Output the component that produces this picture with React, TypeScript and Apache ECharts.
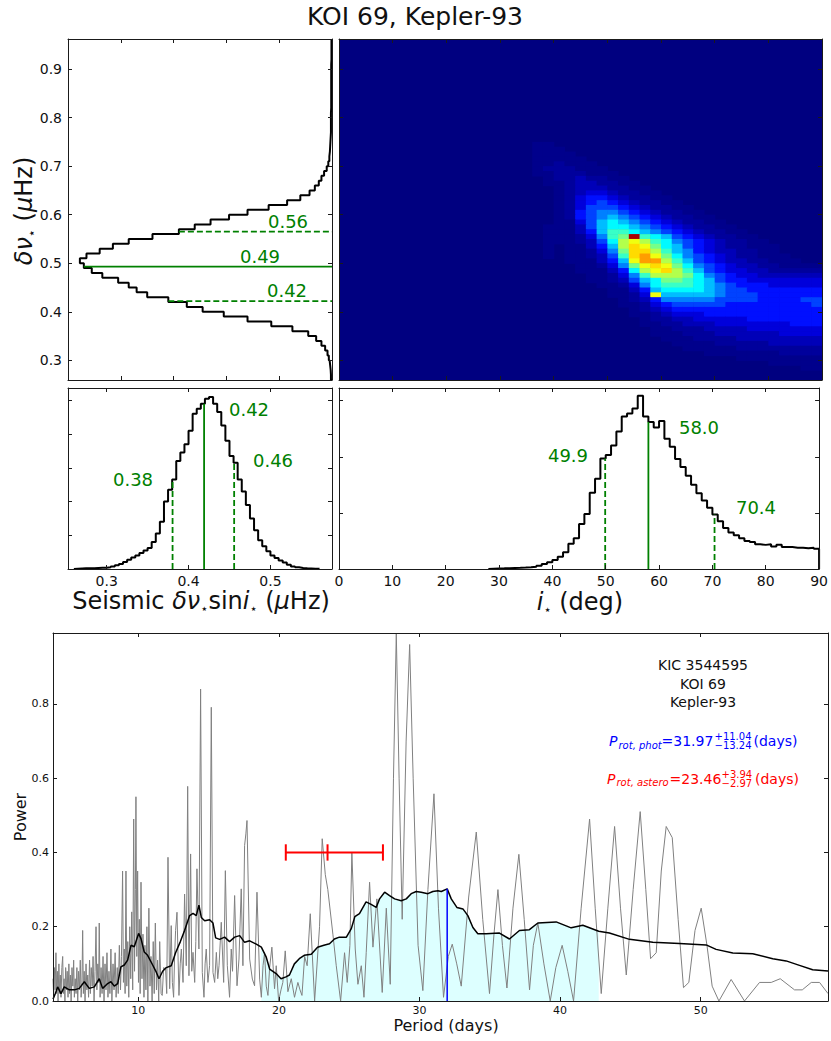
import React, { useEffect, useRef } from "react";
import * as echarts from "echarts";

type Pt = [number, number];

const FONT = "DejaVu Sans";
const INK = "#111111";
const AXIS_INK = "#1a1a1a";
const GREEN = "#008000";

// ---------- Top-left: marginal histogram of delta-nu (bins along y) ----------
const dnuBinStart = 0.26;
const dnuBinWidth = 0.01;
const dnuCounts = [
  0.004, 0.005, 0.007, 0.009, 0.012, 0.017, 0.026, 0.04, 0.06, 0.09,
  0.15, 0.23, 0.32, 0.41, 0.49, 0.55, 0.62, 0.7, 0.74, 0.77,
  0.81, 0.87, 0.91, 0.94, 0.955, 0.93, 0.88, 0.83, 0.77, 0.68,
  0.58, 0.52, 0.46, 0.39, 0.32, 0.24, 0.17, 0.12, 0.085, 0.065,
  0.05, 0.04, 0.03, 0.02, 0.014, 0.01, 0.008, 0.007, 0.006, 0.005,
  0.004, 0.004, 0.004, 0.004, 0.004, 0.003, 0.003, 0.003, 0.003, 0.003,
  0.003, 0.003, 0.003, 0.003, 0.003, 0.002, 0.002, 0.002, 0.002, 0.002,
];
const dnuQuantiles = [0.422, 0.493, 0.565];
const dnuQuantileLabels = ["0.42", "0.49", "0.56"];

// ---------- Middle-left: seismic delta-nu sin i ----------
const vsiniBinStart = 0.26;
const vsiniBinWidth = 0.005;
const vsiniCounts = [
  0.002, 0.003, 0.004, 0.004, 0.005, 0.006, 0.007, 0.008, 0.01, 0.015,
  0.022, 0.03, 0.042, 0.055, 0.068, 0.08, 0.095, 0.11, 0.125, 0.16,
  0.21, 0.28, 0.4, 0.47, 0.53, 0.64, 0.69, 0.74, 0.82, 0.92,
  0.95, 0.98, 1.01, 1.02, 0.98, 0.93, 0.85, 0.76, 0.67, 0.63,
  0.53, 0.46, 0.38, 0.3, 0.23, 0.17, 0.135, 0.105, 0.08, 0.065,
  0.05, 0.038, 0.025, 0.015, 0.01, 0.006, 0.004, 0.003, 0.002, 0.001,
];
const vsiniQuantiles = [0.3805, 0.419, 0.4557];
const vsiniQuantileLabels = ["0.38", "0.42", "0.46"];

// ---------- Middle-right: inclination ----------
const incBinStart = 28;
const incBinWidth = 1;
const incCounts = [
  0.005, 0.01, 0.012, 0.015, 0.02, 0.022, 0.025, 0.03, 0.04, 0.06,
  0.09, 0.12, 0.16, 0.22, 0.3, 0.45, 0.55, 0.8, 0.98, 1.36,
  1.61, 1.97, 2.03, 2.2, 2.45, 2.72, 2.77, 2.86, 3.09, 2.72,
  2.62, 2.52, 2.64, 2.32, 2.18, 1.96, 1.82, 1.66, 1.5, 1.35,
  1.22, 1.09, 0.97, 0.85, 0.73, 0.65, 0.6, 0.55, 0.5, 0.48,
  0.44, 0.43, 0.44, 0.4, 0.43, 0.39, 0.39, 0.38, 0.38, 0.37,
  0.38, 0.36,
];
const incQuantiles = [49.9, 58.0, 70.4];
const incQuantileLabels = ["49.9", "58.0", "70.4"];

// ---------- 2D histogram (inclination x delta-nu) ----------
// each row: one delta-nu bin (lower edge from heatRowTop downwards), each char one inclination bin;
// char is a base-36 index into heatLevelScale (fraction of the colour range).
const heatColStart = 30;
const heatColWidth = 2;
const heatRowTop = 0.74;
const heatRowHeight = 0.01;
const heatLevelScale = [0, 0.012, 0.028, 0.055, 0.09, 0.14, 0.19, 0.25, 0.31, 0.37, 0.43, 0.49, 0.55, 0.61, 0.66, 0.72, 0.8, 0.88, 0.96];
const heatRows = [
  "0001100000" + "0000000000" + "0000000000",
  "0001110000" + "0000000000" + "0000000000",
  "0001111000" + "0000000000" + "0000000000",
  "0001111100" + "0000000000" + "0000000000",
  "0001121110" + "0000000000" + "0000000000",
  "0001222111" + "0000000000" + "0000000000",
  "0001122211" + "1000000000" + "0000000000",
  "0000122322" + "1100000000" + "0000000000",
  "0000112332" + "2110000000" + "0000000000",
  "0000012333" + "2211000000" + "0000000000",
  "0000012344" + "3221100000" + "0000000000",
  "0000012455" + "4322110000" + "0000000000",
  "0000012456" + "5432211000" + "0000000000",
  "0000012466" + "6543221100" + "0000000000",
  "0000012567" + "7654322110" + "0000000000",
  "0000012567" + "8765432211" + "0000000000",
  "0000011468" + "9876543221" + "1000000000",
  "0000111368" + "9987654322" + "1100000000",
  "0000111358" + "aa98765432" + "2110000000",
  "0000111247" + "abia986543" + "2211000000",
  "0000111236" + "9cdca97654" + "3221100000",
  "0000101135" + "8cedb98654" + "3221110000",
  "0000101124" + "7beeca8754" + "3322110000",
  "0000101123" + "6aefdb9765" + "4322111000",
  "0000001113" + "58dffca865" + "4332211100",
  "0000000112" + "47bdedb976" + "5433221111",
  "0000000111" + "359cdeca86" + "5443322222",
  "0000000011" + "247acccb97" + "6544333333",
  "0000000011" + "23689bba98" + "6554444444",
  "0000000001" + "12479aaa98" + "7655544444",
  "0000000000" + "1135899998" + "7665555555",
  "0000000000" + "1124d88888" + "7666555555",
  "0000000000" + "0123577777" + "6666555566",
  "0000000000" + "0112456666" + "6555555556",
  "0000000000" + "0012345555" + "5555555555",
  "0000000000" + "0011234445" + "5555555555",
  "0000000000" + "0001223344" + "4445555555",
  "0000000000" + "0001122333" + "4444444555",
  "0000000000" + "0000112223" + "3334444444",
  "0000000000" + "0000111222" + "3333334444",
  "0000000000" + "0000011122" + "2233333333",
  "0000000000" + "0000001111" + "2222233333",
  "0000000000" + "0000000111" + "1122222222",
  "0000000000" + "0000000001" + "1111112222",
  "0000000000" + "0000000000" + "0011111111",
  "0000000000" + "0000000000" + "0000011111",
  "0000000000" + "0000000000" + "0000000011",
];

// ---------- Bottom: periodogram ----------
const periodogram: Pt[] = [
  [3.93, 0.06], [3.98, 0.01], [4.03, 0.09], [4.08, 0.03], [4.14, 0.13], [4.19, 0.02], [4.24, 0.08], [4.29, 0.0],
  [4.35, 0.1], [4.4, 0.02], [4.45, 0.07], [4.5, 0.01], [4.56, 0.09], [4.62, 0.12], [4.67, 0.02], [4.72, 0.06],
  [4.78, 0.0], [4.83, 0.09], [4.89, 0.03], [4.94, 0.08], [5.0, 0.01], [5.06, 0.1], [5.11, 0.02], [5.17, 0.07],
  [5.22, 0.0], [5.28, 0.09], [5.34, 0.04], [5.4, 0.11], [5.45, 0.01], [5.51, 0.06], [5.57, 0.02], [5.63, 0.09],
  [5.69, 0.0], [5.75, 0.08], [5.81, 0.03], [5.87, 0.11], [5.93, 0.01], [5.99, 0.05], [6.04, 0.19], [6.09, 0.02],
  [6.15, 0.08], [6.21, 0.0], [6.28, 0.1], [6.34, 0.03], [6.4, 0.07], [6.46, 0.01], [6.53, 0.11], [6.59, 0.02],
  [6.65, 0.09], [6.72, 0.04], [6.78, 0.12], [6.85, 0.0], [6.92, 0.08], [6.99, 0.2], [7.05, 0.03], [7.12, 0.1],
  [7.18, 0.05], [7.22, 0.21], [7.28, 0.01], [7.35, 0.09], [7.42, 0.02], [7.49, 0.12], [7.56, 0.0], [7.63, 0.1],
  [7.7, 0.03], [7.77, 0.13], [7.84, 0.01], [7.91, 0.08], [7.98, 0.02], [8.05, 0.14], [8.12, 0.0], [8.2, 0.1],
  [8.27, 0.03], [8.35, 0.13], [8.42, 0.01], [8.5, 0.09], [8.57, 0.02], [8.65, 0.15], [8.73, 0.03], [8.8, 0.12],
  [8.88, 0.35], [8.94, 0.05], [9.0, 0.14], [9.06, 0.02], [9.12, 0.35], [9.18, 0.04], [9.25, 0.16], [9.32, 0.01],
  [9.39, 0.2], [9.46, 0.06], [9.53, 0.24], [9.6, 0.03], [9.67, 0.49], [9.73, 0.08], [9.79, 0.3], [9.83, 0.55],
  [9.89, 0.12], [9.95, 0.35], [10.01, 0.05], [10.07, 0.22], [10.13, 0.02], [10.19, 0.32], [10.26, 0.06], [10.33, 0.18],
  [10.4, 0.01], [10.47, 0.15], [10.54, 0.03], [10.61, 0.2], [10.68, 0.0], [10.75, 0.25], [10.83, 0.04], [10.9, 0.12],
  [10.98, 0.0], [11.06, 0.16], [11.13, 0.02], [11.21, 0.21], [11.29, 0.03], [11.37, 0.11], [11.45, 0.0], [11.52, 0.16],
  [11.62, 0.02], [11.7, 0.015], [11.8, 0.09], [11.94, 0.086], [12.02, 0.02], [12.11, 0.387], [12.23, 0.033], [12.34, 0.203],
  [12.42, 0.05], [12.51, 0.01], [12.58, 0.12], [12.65, 0.19], [12.75, 0.239], [12.89, 0.015], [12.98, 0.1], [13.06, 0.14],
  [13.18, 0.05], [13.29, 0.288], [13.41, 0.095], [13.51, 0.578], [13.6, 0.068], [13.72, 0.396], [13.8, 0.08], [13.89, 0.131],
  [14.01, 0.05], [14.09, 0.16], [14.17, 0.356], [14.31, 0.14], [14.43, 0.84], [14.55, 0.077], [14.67, 0.01], [14.75, 0.1],
  [14.83, 0.14], [14.95, 0.05], [15.07, 0.095], [15.19, 0.791], [15.31, 0.077], [15.43, 0.05], [15.55, 0.131], [15.65, 0.06],
  [15.74, 0.095], [15.9, 0.212], [16.07, 0.05], [16.19, 0.351], [16.33, 0.095], [16.49, 0.01], [16.61, 0.14], [16.7, 0.08],
  [16.85, 0.284], [17.02, 0.041], [17.16, 0.113], [17.32, 0.302], [17.44, 0.095], [17.56, 0.419], [17.65, 0.45], [17.73, 0.486],
  [17.92, 0.113], [18.11, 0.059], [18.27, 0.041], [18.44, 0.293], [18.63, 0.059], [18.75, 0.01], [18.87, 0.095], [18.98, 0.13],
  [19.1, 0.04], [19.22, 0.015], [19.34, 0.09], [19.5, 0.145], [19.69, 0.033], [19.81, 0.095], [19.98, 0.0], [20.15, 0.03],
  [20.28, 0.05], [20.45, 0.135], [20.64, 0.025], [20.88, 0.06], [21.11, 0.01], [21.35, 0.05], [21.5, 0.03], [21.64, 0.015],
  [21.83, 0.12], [22.01, 0.095], [22.23, 0.235], [22.54, 0.0], [22.89, 0.2], [23.08, 0.437], [23.3, 0.34], [23.48, 0.3],
  [23.84, 0.18], [24.08, 0.095], [24.39, 0.0], [24.67, 0.13], [24.86, 0.05], [25.05, 0.15], [25.19, 0.4], [25.43, 0.14],
  [25.62, 0.045], [25.86, 0.095], [26.05, 0.01], [26.21, 0.13], [26.45, 0.32], [26.69, 0.145], [26.97, 0.275], [27.35, 0.023],
  [27.64, 0.25], [27.92, 0.045], [28.15, 0.6], [28.35, 0.99], [28.55, 0.6], [28.77, 0.22], [29.05, 0.7], [29.3, 0.96],
  [29.55, 0.6], [29.9, 0.15], [30.24, 0.028], [30.6, 0.3], [31.03, 0.558], [31.35, 0.25], [31.71, 0.01], [32.05, 0.12],
  [32.33, 0.153], [32.65, 0.1], [32.97, 0.04], [33.5, 0.28], [34.04, 0.455], [34.5, 0.22], [34.98, 0.02], [35.3, 0.18],
  [35.58, 0.3], [35.9, 0.15], [36.22, 0.035], [36.65, 0.25], [37.07, 0.395], [37.45, 0.22], [37.83, 0.03], [38.1, 0.15],
  [38.42, 0.21], [38.85, 0.1], [39.3, 0.0], [39.7, 0.09], [40.15, 0.15], [40.55, 0.08], [40.96, 0.0], [41.5, 0.25],
  [42.1, 0.49], [42.5, 0.25], [42.93, 0.02], [43.4, 0.25], [43.88, 0.47], [44.3, 0.25], [44.71, 0.07], [45.2, 0.3],
  [45.7, 0.51], [46.1, 0.3], [46.44, 0.114], [46.84, 0.13], [47.2, 0.35], [47.55, 0.47], [47.98, 0.44], [48.4, 0.22],
  [48.78, 0.036], [49.16, 0.05], [49.6, 0.19], [50.04, 0.25], [50.45, 0.15], [50.82, 0.04], [51.3, 0.0], [52.17, 0.058],
  [53.12, 0.0], [54.19, 0.05], [55.02, 0.05], [55.66, 0.06], [56.68, 0.03], [57.23, 0.03], [57.87, 0.05], [58.46, 0.05],
  [59.06, 0.02],
];

const smoothed: Pt[] = [
  [3.93, 0.005], [4.1, 0.02], [4.26, 0.038], [4.5, 0.02], [4.73, 0.038], [5.09, 0.03], [5.45, 0.03], [5.8, 0.034],
  [6.16, 0.052], [6.51, 0.034], [6.87, 0.038], [7.22, 0.06], [7.46, 0.034], [7.82, 0.047], [8.05, 0.052], [8.29, 0.04],
  [8.53, 0.047], [8.76, 0.092], [9.0, 0.097], [9.24, 0.11], [9.48, 0.15], [9.71, 0.146], [10.02, 0.182], [10.19, 0.168],
  [10.42, 0.132], [10.66, 0.123], [11.02, 0.097], [11.25, 0.08], [11.47, 0.06], [11.73, 0.08], [11.99, 0.09], [12.34, 0.095],
  [12.65, 0.13], [12.99, 0.16], [13.29, 0.19], [13.65, 0.23], [13.89, 0.236], [14.12, 0.23], [14.31, 0.258], [14.48, 0.225],
  [14.72, 0.216], [15.07, 0.219], [15.31, 0.21], [15.5, 0.17], [15.78, 0.166], [16.14, 0.172], [16.49, 0.16], [16.85, 0.172],
  [17.21, 0.176], [17.56, 0.158], [17.92, 0.162], [18.39, 0.153], [18.75, 0.145], [19.1, 0.118], [19.34, 0.086], [19.8, 0.074],
  [20.15, 0.06], [20.5, 0.065], [20.75, 0.07], [21.1, 0.1], [21.45, 0.114], [21.8, 0.123], [22.3, 0.126], [22.75, 0.145],
  [23.2, 0.15], [23.6, 0.154], [23.95, 0.167], [24.3, 0.172], [24.8, 0.172], [25.15, 0.195], [25.4, 0.227], [25.73, 0.235],
  [26.2, 0.267], [26.56, 0.26], [26.92, 0.252], [27.16, 0.275], [27.52, 0.293], [27.87, 0.284], [28.23, 0.275], [28.7, 0.27],
  [29.06, 0.275], [29.41, 0.289], [29.77, 0.295], [30.12, 0.293], [30.6, 0.289], [30.95, 0.295], [31.31, 0.297], [31.55, 0.295],
  [31.97, 0.302], [32.26, 0.275], [32.66, 0.252], [33.09, 0.248], [33.44, 0.23], [33.8, 0.198], [34.15, 0.181], [34.74, 0.181],
  [35.69, 0.183], [36.4, 0.167], [37.11, 0.19], [37.82, 0.192], [38.42, 0.21], [39.72, 0.213], [40.79, 0.197], [41.62, 0.204],
  [42.75, 0.188], [43.51, 0.183], [44.94, 0.166], [46.6, 0.158], [48.49, 0.155], [50.39, 0.151], [51.1, 0.139], [52.29, 0.129],
  [53.71, 0.127], [55.13, 0.114], [56.08, 0.108], [57.03, 0.096], [57.97, 0.084], [59.06, 0.081],
];

const protPhot = 31.97;
const protPhotPlus = 11.04;
const protPhotMinus = 13.24;
const protAstero = 23.46;
const protAsteroPlus = 3.94;
const protAsteroMinus = 2.97;
const asteroBarPower = 0.4;
const starNames = ["KIC 3544595", "KOI 69", "Kepler-93"];

// ---------- helpers ----------
function stepAlongX(start: number, width: number, counts: number[]): Pt[] {
  const pts: Pt[] = [[start, 0]];
  counts.forEach((c, k) => {
    const lo = start + k * width;
    pts.push([lo, c], [lo + width, c]);
  });
  pts.push([start + counts.length * width, 0]);
  return pts;
}
function stepAlongY(start: number, width: number, counts: number[]): Pt[] {
  return stepAlongX(start, width, counts).map(([a, b]) => [b, a] as Pt);
}
function countAt(start: number, width: number, counts: number[], v: number) {
  const k = Math.min(counts.length - 1, Math.max(0, Math.floor((v - start) / width + 1e-9)));
  return counts[k];
}
function interp(pts: Pt[], x: number) {
  for (let k = 1; k < pts.length; k++) {
    if (pts[k][0] >= x) {
      const [x0, y0] = pts[k - 1];
      const [x1, y1] = pts[k];
      return y0 + ((y1 - y0) * (x - x0)) / (x1 - x0);
    }
  }
  return pts[pts.length - 1][1];
}
function jet(t: number) {
  const c = (v: number) => Math.max(0, Math.min(1, v));
  const r = c(Math.min(4 * t - 1.5, -4 * t + 4.5));
  const g = c(Math.min(4 * t - 0.5, -4 * t + 3.5));
  const b = c(Math.min(4 * t + 0.5, -4 * t + 2.5));
  return `rgb(${Math.round(r * 255)},${Math.round(g * 255)},${Math.round(b * 255)})`;
}
function onStep(step: number, decimals: number) {
  return (v: number) => {
    const k = v / step;
    return Math.abs(k - Math.round(k)) < 1e-6 ? v.toFixed(decimals) : "";
  };
}

function axisCommon(g: number, o: any) {
  const a: any = {
    type: "value",
    gridIndex: g,
    min: o.min,
    max: o.max,
    inverse: !!o.inverse,
    z: 6,
    axisLine: { show: true, onZero: false, lineStyle: { color: AXIS_INK, width: 1 } },
    axisTick: { show: true, inside: true, length: 4, lineStyle: { color: AXIS_INK, width: 1 } },
    splitLine: { show: false },
  };
  if (o.interval != null) a.interval = o.interval;
  else a.splitNumber = o.splitNumber ?? 5;
  return a;
}
function labelStyle(o: any) {
  return o.label
    ? {
        show: true,
        fontFamily: FONT,
        fontSize: o.fontSize,
        color: INK,
        margin: o.margin,
        formatter: o.label,
        showMinLabel: true,
        showMaxLabel: true,
      }
    : { show: false };
}
function xPair(g: number, o: any) {
  const c = axisCommon(g, o);
  return [
    { ...c, position: "bottom", axisLabel: labelStyle(o) },
    { ...c, position: "top", axisLabel: { show: false } },
  ];
}
function yPair(g: number, o: any) {
  const c = axisCommon(g, o);
  return [
    { ...c, position: "left", axisLabel: labelStyle(o) },
    { ...c, position: "right", axisLabel: { show: false } },
  ];
}

function line(g: number, data: Pt[], color: string, width: number, extra: any = {}) {
  return {
    type: "line",
    xAxisIndex: 2 * g,
    yAxisIndex: 2 * g,
    data,
    symbol: "none",
    showSymbol: false,
    silent: true,
    animation: false,
    clip: true,
    z: extra.z ?? 3,
    lineStyle: { color, width, type: extra.dash ?? "solid" },
    ...(extra.area ? { areaStyle: extra.area } : {}),
  };
}

function txt(x: number, y: number, text: string, size: number, o: any = {}) {
  return {
    type: "text",
    x,
    y,
    z: 100,
    silent: true,
    rotation: o.rotation ?? 0,
    style: {
      text,
      fontSize: size,
      fontFamily: FONT,
      fontStyle: o.italic ? "italic" : "normal",
      fill: o.fill ?? INK,
      align: o.align ?? "center",
      verticalAlign: "middle",
      lineHeight: o.lineHeight,
      rich: o.rich,
    },
  };
}
function mathRich(size: number) {
  return {
    i: { fontStyle: "italic", fontSize: size, fontFamily: FONT, lineHeight: size + 4, fill: INK },
    s: { fontSize: Math.round(size * 0.55), fontFamily: FONT, lineHeight: Math.round(size * 0.58), verticalAlign: "bottom", fill: INK },
  };
}

function buildOption() {
  // heat cells
  const heatCells: number[][] = [];
  heatRows.forEach((row, r) => {
    for (let c = 0; c < row.length; c++) {
      const lvl = parseInt(row[c], 36);
      if (lvl > 0 && heatColStart + c * heatColWidth < 90) {
        heatCells.push([heatColStart + c * heatColWidth, heatRowTop - r * heatRowHeight, heatLevelScale[lvl]]);
      }
    }
  });

  const phLo = protPhot - protPhotMinus;
  const phHi = protPhot + protPhotPlus;
  const fillPts: Pt[] = [[phLo, interp(smoothed, phLo)], ...smoothed.filter((p) => p[0] > phLo && p[0] <= phHi)];
  const asLo = protAstero - protAsteroMinus;
  const asHi = protAstero + protAsteroPlus;
  const cap = 0.022;

  const series: any[] = [
    // top-left
    line(0, stepAlongY(dnuBinStart, dnuBinWidth, dnuCounts), "#000", 2),
    ...dnuQuantiles.map((q, k) =>
      line(0, [[countAt(dnuBinStart, dnuBinWidth, dnuCounts, q), q], [0, q]], GREEN, 1.8, { dash: k === 1 ? "solid" : [6, 3], z: 4 })
    ),
    // heatmap
    {
      type: "custom",
      xAxisIndex: 2,
      yAxisIndex: 2,
      silent: true,
      animation: false,
      clip: true,
      data: heatCells,
      encode: { x: 0, y: 1 },
      renderItem: (_p: any, api: any) => {
        const i0 = api.value(0);
        const d0 = api.value(1);
        const t = api.value(2);
        const a = api.coord([i0, d0 + heatRowHeight]);
        const b = api.coord([i0 + heatColWidth, d0]);
        return {
          type: "rect",
          shape: { x: a[0], y: a[1], width: b[0] - a[0] + 0.6, height: b[1] - a[1] + 0.6 },
          style: { fill: jet(t) },
        };
      },
    },
    // middle-left
    line(2, stepAlongX(vsiniBinStart, vsiniBinWidth, vsiniCounts), "#000", 2),
    ...vsiniQuantiles.map((q, k) =>
      line(2, [[q, 0], [q, countAt(vsiniBinStart, vsiniBinWidth, vsiniCounts, q)]], GREEN, 1.8, { dash: k === 1 ? "solid" : [6, 3], z: 4 })
    ),
    // middle-right
    line(3, stepAlongX(incBinStart, incBinWidth, incCounts), "#000", 2),
    ...incQuantiles.map((q, k) =>
      line(3, [[q, 0], [q, countAt(incBinStart, incBinWidth, incCounts, q)]], GREEN, 1.8, { dash: k === 1 ? "solid" : [6, 3], z: 4 })
    ),
    // bottom
    line(4, fillPts, "#ddffff", 0, { z: 1, area: { color: "#ddffff", opacity: 1 } }),
    line(4, periodogram, "#808080", 1, { z: 2 }),
    line(4, smoothed, "#000", 1.5, { z: 3 }),
    line(4, [[protPhot, 0], [protPhot, interp(smoothed, protPhot)]], "#0000ff", 1.5, { z: 4 }),
    line(4, [[asLo, asteroBarPower], [asHi, asteroBarPower]], "#ff0000", 2, { z: 5 }),
    line(4, [[asLo, asteroBarPower - cap], [asLo, asteroBarPower + cap]], "#ff0000", 2, { z: 5 }),
    line(4, [[protAstero, asteroBarPower - cap], [protAstero, asteroBarPower + cap]], "#ff0000", 2, { z: 5 }),
    line(4, [[asHi, asteroBarPower - cap], [asHi, asteroBarPower + cap]], "#ff0000", 2, { z: 5 }),
  ];

  const rich24 = mathRich(24);
  const graphic: any[] = [
    txt(415, 16, "KOI 69, Kepler-93", 25),
    txt(24, 211, "{i|δν}{s|⋆} ({i|μ}Hz)", 24, { rotation: Math.PI / 2, rich: rich24, lineHeight: 28 }),
    txt(201, 601, "Seismic {i|δν}{s|⋆}sin{i|i}{s|⋆} ({i|μ}Hz)", 24, { rich: rich24, lineHeight: 28 }),
    txt(580, 602, "{i|i}{s|⋆} (deg)", 24, { rich: rich24, lineHeight: 28 }),
    // quantile labels
    txt(288, 221, dnuQuantileLabels[2], 18, { fill: GREEN }),
    txt(260, 256, dnuQuantileLabels[1], 18, { fill: GREEN }),
    txt(287, 290, dnuQuantileLabels[0], 18, { fill: GREEN }),
    txt(133, 479, vsiniQuantileLabels[0], 18, { fill: GREEN }),
    txt(249, 409, vsiniQuantileLabels[1], 18, { fill: GREEN }),
    txt(273, 460, vsiniQuantileLabels[2], 18, { fill: GREEN }),
    txt(568, 455, incQuantileLabels[0], 18, { fill: GREEN }),
    txt(699, 427, incQuantileLabels[1], 18, { fill: GREEN }),
    txt(756, 507, incQuantileLabels[2], 18, { fill: GREEN }),
    // bottom axis titles
    txt(20, 817, "Power", 16, { rotation: Math.PI / 2 }),
    txt(446, 1025, "Period (days)", 16),
    // star names
    txt(703, 665, starNames[0], 14),
    txt(703, 683.5, starNames[1], 14),
    txt(703, 702, starNames[2], 14),
    // photometric period
    txt(609, 741, "P", 14, { italic: true, fill: "#0000ff", align: "left" }),
    txt(618.5, 745, "rot, phot", 10, { italic: true, fill: "#0000ff", align: "left" }),
    txt(661.5, 741, "=" + protPhot.toFixed(2), 14, { fill: "#0000ff", align: "left" }),
    txt(714.5, 736.5, "+" + protPhotPlus.toFixed(2), 10, { fill: "#0000ff", align: "left" }),
    txt(714.5, 745.5, "\u2212" + protPhotMinus.toFixed(2), 10, { fill: "#0000ff", align: "left" }),
    txt(753.5, 741, "(days)", 14, { fill: "#0000ff", align: "left" }),
    // asteroseismic period
    txt(607, 778.5, "P", 14, { italic: true, fill: "#ff0000", align: "left" }),
    txt(616.5, 782, "rot, astero", 10, { italic: true, fill: "#ff0000", align: "left" }),
    txt(669.5, 778.5, "=" + protAstero.toFixed(2), 14, { fill: "#ff0000", align: "left" }),
    txt(721.5, 774, "+" + protAsteroPlus.toFixed(2), 10, { fill: "#ff0000", align: "left" }),
    txt(721.5, 783, "\u2212" + protAsteroMinus.toFixed(2), 10, { fill: "#ff0000", align: "left" }),
    txt(755, 778.5, "(days)", 14, { fill: "#ff0000", align: "left" }),
  ];

  return {
    animation: false,
    backgroundColor: "#ffffff",
    textStyle: { fontFamily: FONT },
    grid: [
      { left: 68, top: 39, width: 264, height: 341 },
      { left: 339, top: 39, width: 483, height: 341, show: true, backgroundColor: "#000080", borderWidth: 0 },
      { left: 68, top: 388, width: 264, height: 181 },
      { left: 339, top: 388, width: 483, height: 181 },
      { left: 53, top: 633, width: 777, height: 368 },
    ],
    xAxis: [
      ...xPair(0, { min: 0, max: 1, interval: 0.2, inverse: true }),
      ...xPair(1, { min: 0, max: 90, interval: 10 }),
      ...xPair(2, { min: 0.2528, max: 0.5752, splitNumber: 3, label: onStep(0.1, 1), fontSize: 14, margin: 5 }),
      ...xPair(3, { min: 0, max: 90, interval: 10, label: onStep(10, 0), fontSize: 14, margin: 5 }),
      ...xPair(4, { min: 3.93, max: 59.06, splitNumber: 5, label: onStep(10, 0), fontSize: 11, margin: 4 }),
    ],
    yAxis: [
      ...yPair(0, { min: 0.2594, max: 0.962, splitNumber: 7, label: onStep(0.1, 1), fontSize: 14, margin: 6 }),
      ...yPair(1, { min: 0.2594, max: 0.962, splitNumber: 7 }),
      ...yPair(2, { min: 0, max: 1.073, interval: 0.2 }),
      ...yPair(3, { min: 0, max: 3.226, interval: 1 }),
      ...yPair(4, { min: 0, max: 0.991, interval: 0.2, label: onStep(0.2, 1), fontSize: 11, margin: 4 }),
    ],
    series,
    graphic,
  };
}

export default function App() {
  const ref = useRef<HTMLDivElement | null>(null);
  useEffect(() => {
    if (!ref.current) return;
    const chart = echarts.init(ref.current, null, { renderer: "svg" });
    chart.setOption(buildOption() as any);
    return () => chart.dispose();
  }, []);
  return (
    <div
      ref={ref}
      style={{ position: "absolute", left: 0, top: 0, width: 831, height: 1041, background: "#fff" }}
    />
  );
}
